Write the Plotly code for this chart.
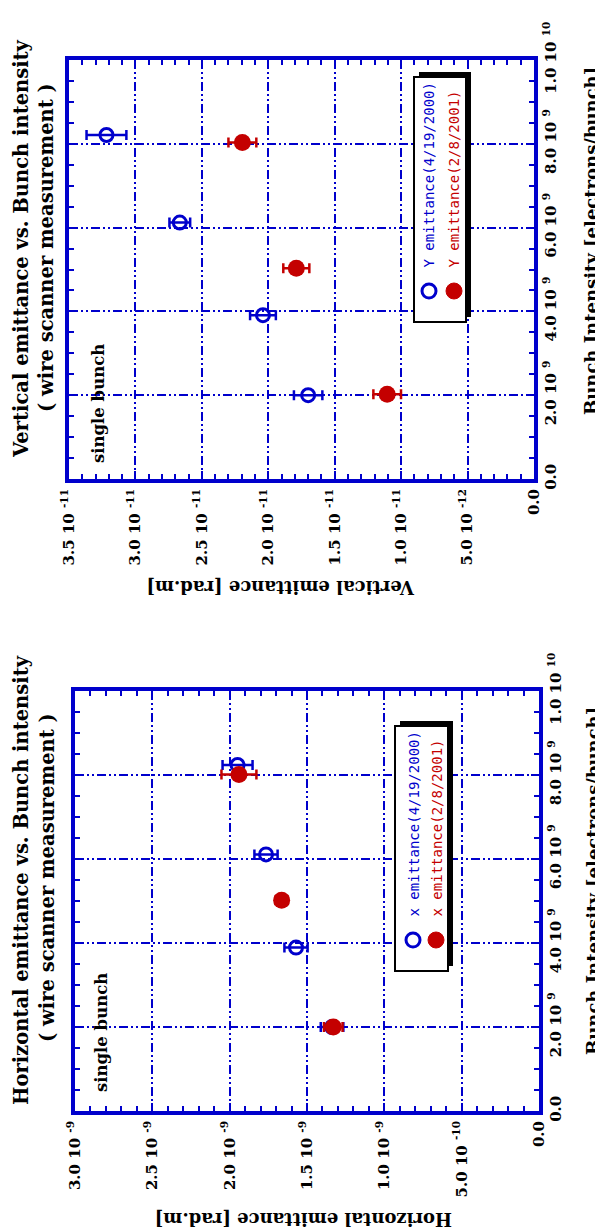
import plotly.graph_objects as go

W, H = 603, 1229

# ---------------- data ----------------
# Vertical emittance panel
v_int_2000 = [2.00e9, 3.91e9, 6.12e9, 8.21e9]
v_emit_2000 = [1.700e-11, 2.040e-11, 2.666e-11, 3.218e-11]
v_err_2000 = [0.107e-11, 0.097e-11, 0.078e-11, 0.150e-11]
v_int_2001 = [2.02e9, 5.03e9, 8.03e9]
v_emit_2001 = [1.105e-11, 1.789e-11, 2.195e-11]
v_err_2001 = [0.104e-11, 0.098e-11, 0.105e-11]

# Horizontal emittance panel
h_int_2000 = [2.00e9, 3.89e9, 6.11e9, 8.24e9]
h_emit_2000 = [1.338e-9, 1.571e-9, 1.765e-9, 1.949e-9]
h_err_2000 = [0.073e-9, 0.075e-9, 0.075e-9, 0.097e-9]
h_int_2001 = [2.00e9, 5.02e9, 8.01e9]
h_emit_2001 = [1.330e-9, 1.664e-9, 1.940e-9]
h_err_2001 = [0.060e-9, 0.040e-9, 0.113e-9]

# ticks
int_tickvals = [0, 2e9, 4e9, 6e9, 8e9, 1e10]
int_ticktext = ["0.0", "2.0 10 <sup>9</sup>", "4.0 10 <sup>9</sup>", "6.0 10 <sup>9</sup>",
                "8.0 10 <sup>9</sup>", "1.0 10 <sup>10</sup>"]
v_tickvals = [0, 5e-12, 1e-11, 1.5e-11, 2e-11, 2.5e-11, 3e-11, 3.5e-11]
v_ticktext = ["0.0", "5.0 10 <sup>-12</sup>", "1.0 10 <sup>-11</sup>", "1.5 10 <sup>-11</sup>",
              "2.0 10 <sup>-11</sup>", "2.5 10 <sup>-11</sup>", "3.0 10 <sup>-11</sup>",
              "3.5 10 <sup>-11</sup>"]
h_tickvals = [0, 5e-10, 1e-9, 1.5e-9, 2e-9, 2.5e-9, 3e-9]
h_ticktext = ["0.0", "5.0 10 <sup>-10</sup>", "1.0 10 <sup>-9</sup>", "1.5 10 <sup>-9</sup>",
              "2.0 10 <sup>-9</sup>", "2.5 10 <sup>-9</sup>", "3.0 10 <sup>-9</sup>"]

v_legend = ["Y emittance(4/19/2000)", "Y emittance(2/8/2001)"]
h_legend = ["x emittance(4/19/2000)", "x emittance(2/8/2001)"]

# ---------------- style ----------------
BLUE = "#0000CC"
RED = "#C40000"
SERIF = "DejaVu Serif"
SANS = "DejaVu Sans Mono"
GRIDDASH = "9px,3px,2px,3px,2px,3px"


def px_x(x):
    return x / W


def px_y(y):
    return 1 - y / H


fig = go.Figure()

def add_series(xa, ya, emit, inten, err, color, symbol, size, name):
    fig.add_trace(go.Scatter(
        x=emit, y=inten, mode="markers", name=name, xaxis=xa, yaxis=ya,
        marker=dict(symbol=symbol, size=size, color=color,
                    line=dict(color=color, width=3 if "open" in symbol else 0)),
        error_x=dict(type="data", array=err, color=color, thickness=2.5, width=5),
        showlegend=False, cliponaxis=False))

add_series("x", "y", v_emit_2000, v_int_2000, v_err_2000, BLUE, "circle-open", 13, v_legend[0])
add_series("x", "y", v_emit_2001, v_int_2001, v_err_2001, RED, "circle", 17, v_legend[1])
add_series("x2", "y2", h_emit_2000, h_int_2000, h_err_2000, BLUE, "circle-open", 13, h_legend[0])
add_series("x2", "y2", h_emit_2001, h_int_2001, h_err_2001, RED, "circle", 17, h_legend[1])

tickfont = dict(family=SERIF, size=15, color="black", weight="bold")


def emit_axis(domain, rng, tv, tt, minor_dt, anchor):
    return dict(domain=domain, range=rng, anchor=anchor, tickvals=tv, ticktext=tt,
                automargin=False,
                tickangle=-90, tickfont=tickfont, ticks="inside", ticklen=8, tickwidth=2,
                tickcolor=BLUE, showline=True, linecolor=BLUE, linewidth=4, mirror="allticks",
                showgrid=True, gridcolor=BLUE, gridwidth=2, griddash=GRIDDASH, zeroline=False,
                minor=dict(dtick=minor_dt, tick0=0, ticks="inside", ticklen=5, tickwidth=2,
                           tickcolor=BLUE, showgrid=False))


def int_axis(domain, anchor):
    return dict(domain=domain, range=[0, 1e10], anchor=anchor, side="right",
                automargin=False,
                tickvals=int_tickvals, ticktext=int_ticktext, tickangle=-90, tickfont=tickfont,
                ticks="inside", ticklen=8, tickwidth=2, tickcolor=BLUE, showline=True,
                linecolor=BLUE, linewidth=4, mirror="allticks", showgrid=True,
                gridcolor=BLUE, gridwidth=2, griddash=GRIDDASH, zeroline=False,
                minor=dict(dtick=5e8, tick0=0, ticks="inside", ticklen=5, tickwidth=2,
                           tickcolor=BLUE, showgrid=False))


fig.update_layout(
    width=W, height=H, margin=dict(l=0, r=0, t=0, b=0, autoexpand=False),
    paper_bgcolor="white", plot_bgcolor="white", showlegend=False,
    xaxis=emit_axis([px_x(61), px_x(526)], [3.5e-11, 0], v_tickvals, v_ticktext, 1e-12, "y"),
    yaxis=int_axis([px_y(471), px_y(52)], "x"),
    xaxis2=emit_axis([px_x(67), px_x(531)], [3.0e-9, 0], h_tickvals, h_ticktext, 1e-10, "y2"),
    yaxis2=int_axis([px_y(1103), px_y(683)], "x2"),
)

annotations = []
shapes = []


def ann(text, x, y, angle, size, color="black", family=SERIF, weight="bold",
        xanchor="center", yanchor="middle"):
    annotations.append(dict(text=text, x=px_x(x), y=px_y(y), xref="paper", yref="paper",
                            showarrow=False, textangle=angle, xanchor=xanchor, yanchor=yanchor,
                            font=dict(family=family, size=size, color=color, weight=weight)))


# titles
ann("Vertical emittance vs. Bunch intensity", 13, 241, -90, 19.5)
ann("( wire scanner measurement )", 39, 240, -90, 19.5)
ann("Horizontal emittance vs. Bunch intensity", 13, 872, -90, 19.5)
ann("( wire scanner measurement )", 39, 870, -90, 19.5)
# single bunch
ann("single bunch", 90, 395, -90, 16.5)
ann("single bunch", 93, 1025, -90, 16.5)
# axis titles
ann("Vertical emittance [rad.m]", 273, 580, 180, 18)
ann("Horizontal emittance [rad.m]", 296, 1212, 180, 18)
ann("Bunch Intensity [electrons/bunch]", 584, 233, -90, 18)
ann("Bunch Intensity [electrons/bunch]", 585, 873, -90, 18)


def legend(x0, y0, x1, y1, labels, ycirc, xc1, xc2):
    # shadow
    shapes.append(dict(type="rect", xref="paper", yref="paper",
                       x0=px_x(x0 + 5), x1=px_x(x1 + 5), y0=px_y(y1 - 5), y1=px_y(y0 - 5),
                       fillcolor="black", line=dict(width=0), layer="above"))
    shapes.append(dict(type="rect", xref="paper", yref="paper",
                       x0=px_x(x0), x1=px_x(x1), y0=px_y(y1), y1=px_y(y0),
                       fillcolor="white", line=dict(color="black", width=2), layer="above"))
    r = 7
    shapes.append(dict(type="circle", xref="paper", yref="paper",
                       x0=px_x(xc1 - r), x1=px_x(xc1 + r), y0=px_y(ycirc + r), y1=px_y(ycirc - r),
                       fillcolor="white", line=dict(color=BLUE, width=3), layer="above"))
    shapes.append(dict(type="circle", xref="paper", yref="paper",
                       x0=px_x(xc2 - r - 1), x1=px_x(xc2 + r + 1), y0=px_y(ycirc + r + 1),
                       y1=px_y(ycirc - r - 1),
                       fillcolor=RED, line=dict(color=RED, width=1), layer="above"))
    ann(labels[0], xc1, ycirc - 21, -90, 14, color=BLUE, family=SANS, weight="normal",
        yanchor="bottom")
    ann(labels[1], xc2, ycirc - 21, -90, 14, color=RED, family=SANS, weight="normal",
        yanchor="bottom")


legend(406, 69, 458, 314, v_legend, 283, 421, 446)
legend(387, 718, 440, 963, h_legend, 932, 405, 428)

fig.update_layout(annotations=annotations, shapes=shapes)
fig.write_html("out.html")
